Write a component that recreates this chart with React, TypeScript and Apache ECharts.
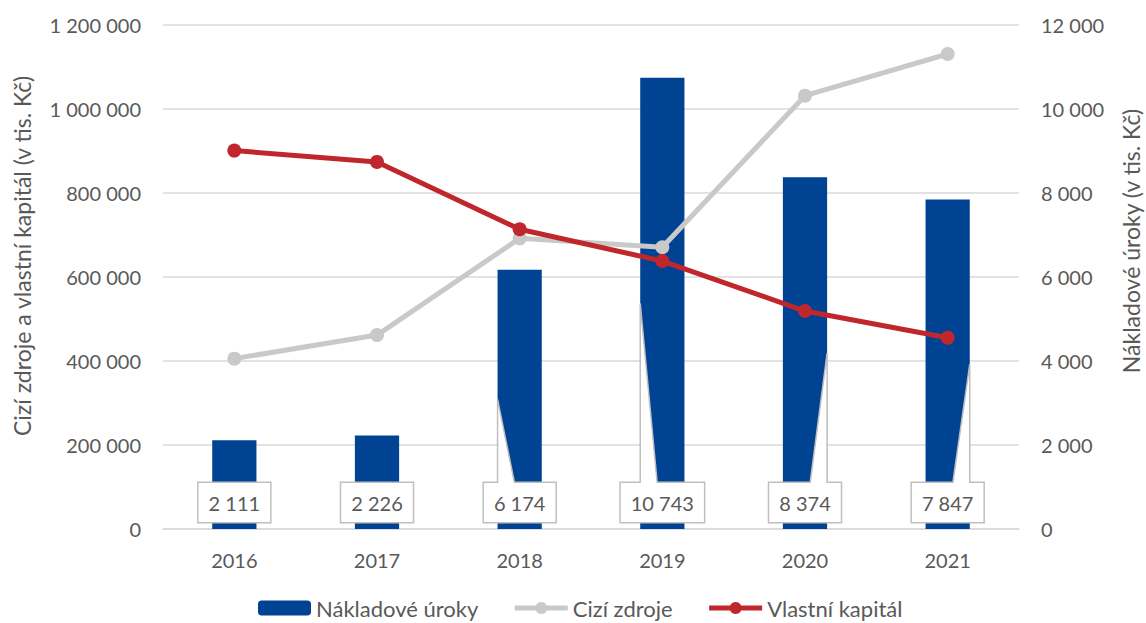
import React, { useEffect, useRef } from "react";
import * as echarts from "echarts";

const years = ["2016", "2017", "2018", "2019", "2020", "2021"];
const nakladoveUroky = [2111, 2226, 6174, 10743, 8374, 7847];
const ciziZdroje = [405600, 461700, 692000, 670700, 1031700, 1131000];
const vlastniKapital = [901000, 874000, 713600, 638000, 519000, 455500];

const FONT = "Lato, 'Open Sans', sans-serif";
const TEXT = "#595959";
const GRID = "#D9D9D9";
const BAR_RATIO = 0.31;

const fmt = (v: number) => String(Math.round(v)).replace(/\B(?=(\d{3})+(?!\d))/g, " ");

export default function App() {
  const ref = useRef<HTMLDivElement>(null);
  useEffect(() => {
    if (!ref.current) return;
    const chart = echarts.init(ref.current, undefined, { renderer: "svg" });
    chart.setOption({
      animation: false,
      backgroundColor: "#ffffff",
      textStyle: { fontFamily: FONT },
      grid: { left: 163, right: 127, top: 25, bottom: 94, containLabel: false },
      legend: {
        left: 258,
        top: 597,
        padding: 0,
        itemWidth: 53,
        itemHeight: 15,
        itemGap: 34,
        lineStyle: { width: 5 },
        data: ["Nákladové úroky", "Cizí zdroje", "Vlastní kapitál"],
        textStyle: { fontSize: 22, color: TEXT, fontFamily: FONT },
      },
      xAxis: {
        type: "category",
        data: years,
        axisLine: { show: true, lineStyle: { color: GRID, width: 1.5 } },
        axisTick: { show: false },
        axisLabel: { fontSize: 20, color: TEXT, margin: 21, fontFamily: FONT },
      },
      yAxis: [
        {
          type: "value",
          min: 0,
          max: 1200000,
          interval: 200000,
          axisLine: { show: false },
          axisTick: { show: false },
          axisLabel: { fontSize: 20, color: TEXT, margin: 22, fontFamily: FONT, formatter: (v: number) => fmt(v) },
          splitLine: { lineStyle: { color: GRID, width: 1.5 } },
        },
        {
          type: "value",
          min: 0,
          max: 12000,
          interval: 2000,
          axisLine: { show: false },
          axisTick: { show: false },
          axisLabel: { fontSize: 20, color: TEXT, margin: 22, fontFamily: FONT, formatter: (v: number) => fmt(v) },
          splitLine: { show: false },
        },
      ],
      graphic: [
        {
          type: "text",
          x: 22,
          y: 256,
          rotation: Math.PI / 2,
          style: {
            text: "Cizí zdroje a vlastní kapitál (v tis. Kč)",
            font: `23px ${FONT}`,
            fill: TEXT,
            align: "center",
            verticalAlign: "middle",
          },
        },
        {
          type: "text",
          x: 1131,
          y: 241,
          rotation: Math.PI / 2,
          style: {
            text: "Nákladové úroky (v tis. Kč)",
            font: `23px ${FONT}`,
            fill: TEXT,
            align: "center",
            verticalAlign: "middle",
          },
        },
      ],
      series: [
        {
          name: "Nákladové úroky",
          type: "bar",
          yAxisIndex: 1,
          data: nakladoveUroky,
          barWidth: `${BAR_RATIO * 100}%`,
          itemStyle: { color: "#004393" },
          z: 2,
        },
        {
          name: "Cizí zdroje",
          type: "line",
          yAxisIndex: 0,
          data: ciziZdroje,
          symbol: "circle",
          symbolSize: 14,
          lineStyle: { color: "#C9C9C9", width: 5 },
          itemStyle: { color: "#C9C9C9" },
          z: 3,
        },
        {
          name: "Vlastní kapitál",
          type: "line",
          yAxisIndex: 0,
          data: vlastniKapital,
          symbol: "circle",
          symbolSize: 14,
          lineStyle: { color: "#C0272D", width: 5 },
          itemStyle: { color: "#C0272D" },
          z: 4,
        },
        {
          name: "callouts",
          type: "custom",
          yAxisIndex: 1,
          silent: true,
          z: 5,
          data: nakladoveUroky.map((v, i) => [i, v]),
          renderItem: (params: any, api: any) => {
            const idx = api.value(0);
            const val = api.value(1);
            const base = api.coord([idx, 0]);
            const mid = api.coord([idx, val / 2]);
            const band = api.size([1, 0])[0];
            const half = (band * BAR_RATIO) / 2;
            const cx = base[0];
            const zeroY = base[1];
            const boxTop = zeroY - 46;
            const children: any[] = [
              {
                type: "text",
                style: {
                  text: fmt(val),
                  x: cx,
                  y: zeroY - 26.5,
                  align: "center",
                  verticalAlign: "middle",
                  font: `20px ${FONT}`,
                  fill: TEXT,
                  backgroundColor: "#ffffff",
                  borderColor: "#BFBFBF",
                  borderWidth: 1.5,
                  padding: [8, 10],
                  lineHeight: 23,
                },
              },
            ];
            if (mid[1] < boxTop - 4) {
              const left = params.dataIndex < 4;
              const ax = left ? cx - half : cx + half;
              const b1 = left ? ax : ax - 17;
              const b2 = left ? ax + 17 : ax;
              children.push({
                type: "polygon",
                shape: { points: [[ax, mid[1]], [b1, boxTop + 1.2], [b2, boxTop + 1.2]] },
                style: { fill: "#ffffff" },
              });
              children.push({
                type: "polyline",
                shape: { points: [[b1, boxTop], [ax, mid[1]], [b2, boxTop]] },
                style: { stroke: "#BFBFBF", lineWidth: 1.5, fill: null },
              });
            }
            return { type: "group", children };
          },
        },
      ],
    });
    return () => chart.dispose();
  }, []);
  return (
    <div
      ref={ref}
      style={{ position: "absolute", left: 0, top: 0, width: 1146, height: 623, background: "#fff" }}
    />
  );
}
